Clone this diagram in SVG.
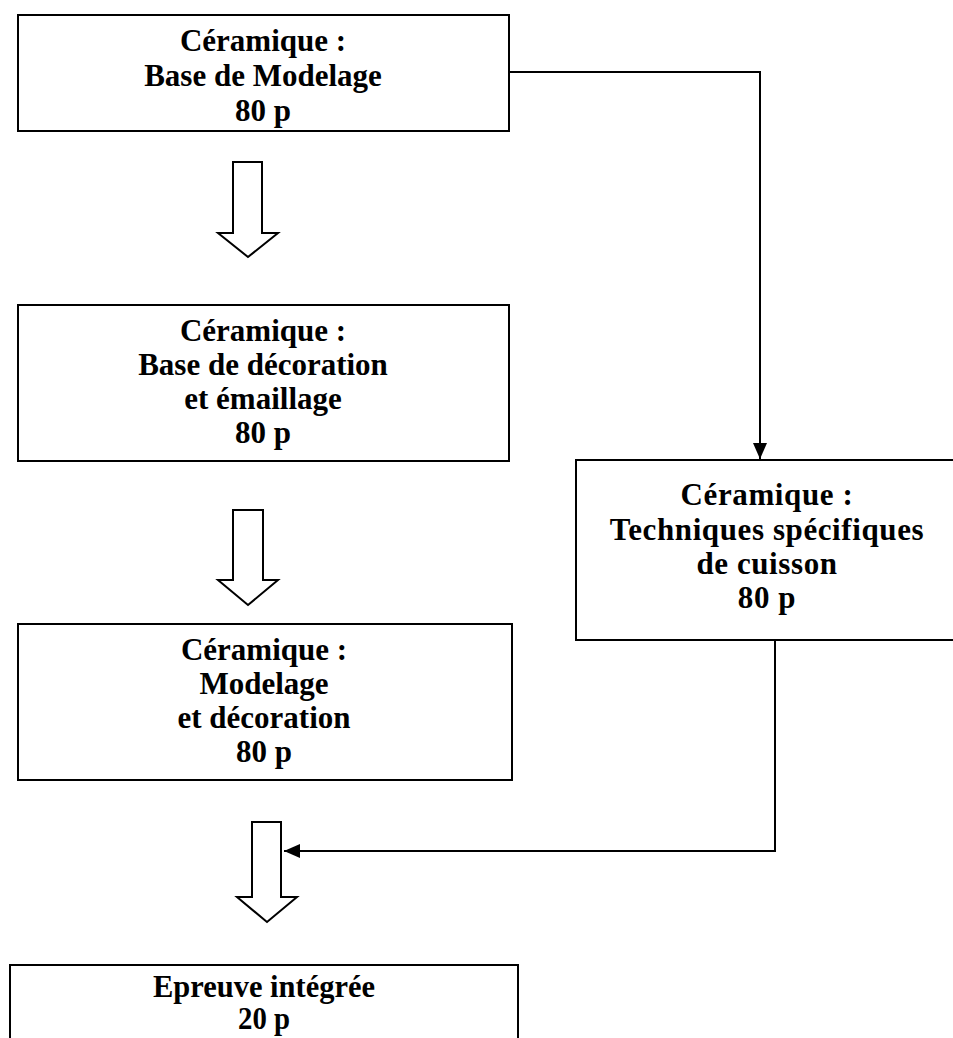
<svg xmlns="http://www.w3.org/2000/svg" width="953" height="1038" viewBox="0 0 953 1038">
<defs>
<style>
.box{fill:#fff;stroke:#000;stroke-width:2}
.t{font-family:"Liberation Serif","Times New Roman",serif;font-weight:bold;font-size:31px;fill:#000;text-anchor:middle}
.w{letter-spacing:0.6px}
.hollow{fill:#fff;stroke:#000;stroke-width:2;stroke-linejoin:miter}
.conn{fill:none;stroke:#000;stroke-width:2}
</style>
<marker id="ah" viewBox="0 0 10 10" refX="10" refY="5" markerWidth="16" markerHeight="14" markerUnits="userSpaceOnUse" orient="auto" preserveAspectRatio="none">
<path d="M0,0 L10,5 L0,10 Z" fill="#000"/>
</marker>
</defs>
<rect width="953" height="1038" fill="#fff"/>

<g id="node-modelage">
<rect class="box" x="18" y="15" width="491" height="116"/>
<text class="t" x="263" y="51">Céramique :</text>
<text class="t" x="263" y="86">Base de Modelage</text>
<text class="t" x="263" y="121">80 p</text>
</g>

<g id="node-decoration">
<rect class="box" x="18" y="305" width="491" height="156"/>
<text class="t" x="263" y="341">Céramique :</text>
<text class="t" x="263" y="375">Base de décoration</text>
<text class="t" x="263" y="409">et émaillage</text>
<text class="t" x="263" y="443">80 p</text>
</g>

<g id="node-modelage-deco">
<rect class="box" x="18" y="624" width="494" height="156"/>
<text class="t" x="264" y="660">Céramique :</text>
<text class="t" x="264" y="694">Modelage</text>
<text class="t" x="264" y="728">et décoration</text>
<text class="t" x="264" y="762">80 p</text>
</g>

<g id="node-cuisson">
<rect class="box" x="576" y="460" width="390" height="180"/>
<text class="t w" x="767" y="505">Céramique :</text>
<text class="t w" x="767" y="540">Techniques spécifiques</text>
<text class="t w" x="767" y="574">de cuisson</text>
<text class="t w" x="767" y="608">80 p</text>
</g>

<g id="node-epreuve">
<rect class="box" x="10" y="965" width="508" height="90"/>
<text class="t" x="264" y="997" textLength="222" lengthAdjust="spacingAndGlyphs">Epreuve intégrée</text>
<text class="t" x="264" y="1029" textLength="52" lengthAdjust="spacingAndGlyphs">20 p</text>
</g>

<g id="connectors">
<path class="hollow" d="M233,162 L262,162 L262,233 L278,233 L248,257 L218,233 L233,233 Z"/>
<path class="hollow" d="M233,510 L263,510 L263,580 L278,580 L248,605 L218,580 L233,580 Z"/>
<path class="hollow" d="M252,822 L281,822 L281,897 L297,897 L267,922 L237,897 L252,897 Z"/>
<path class="conn" d="M509,72 L760,72 L760,459" marker-end="url(#ah)"/>
<path class="conn" d="M775,640 L775,851 L284,851" marker-end="url(#ah)"/>
</g>
</svg>
